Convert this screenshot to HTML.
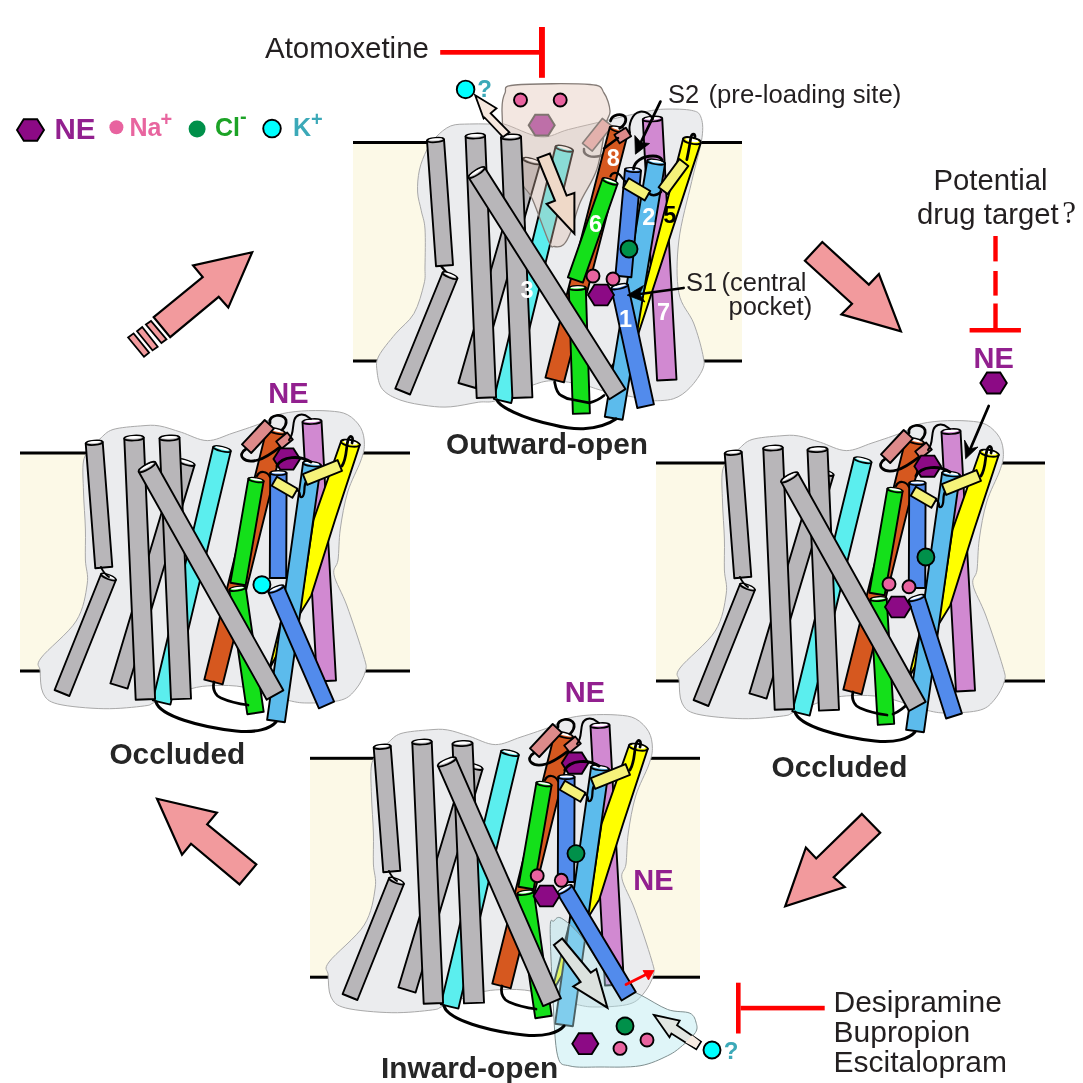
<!DOCTYPE html>
<html><head><meta charset="utf-8"><style>html,body{margin:0;padding:0;background:#fff;width:1083px;height:1083px;overflow:hidden}svg{display:block;will-change:transform}</style></head>
<body>
<svg width="1083" height="1083" viewBox="0 0 1083 1083">
<rect width="1083" height="1083" fill="#fff"/>
<rect x="20" y="453" width="390" height="218" fill="#FCF9E7"/>
<rect x="20" y="451.5" width="390" height="3" fill="#000"/>
<rect x="20" y="669.5" width="390" height="3" fill="#000"/>
<path d="M83.5,461.0 C84.8,453.7 88.2,451.7 91.0,448.0 C93.8,444.3 96.3,441.9 100.0,438.8 C103.7,435.7 106.2,431.6 113.0,429.5 C119.8,427.4 133.1,426.5 140.8,425.9 C148.5,425.3 152.5,424.8 159.3,425.9 C166.1,427.0 173.4,429.9 181.4,432.3 C189.4,434.8 198.7,440.5 207.3,440.6 C215.9,440.7 223.4,436.1 233.0,433.0 C242.6,429.9 257.2,425.0 264.6,422.0 C272.0,419.0 271.4,416.6 277.6,414.8 C283.8,413.0 293.0,411.6 301.6,411.0 C310.2,410.4 321.6,410.4 329.3,411.0 C337.0,411.6 342.5,412.0 347.7,414.8 C352.9,417.6 357.9,422.8 360.7,427.7 C363.5,432.6 364.4,438.8 364.4,444.3 C364.4,449.9 363.5,453.1 360.7,461.0 C357.9,468.9 351.1,480.7 347.7,492.0 C344.3,503.3 341.9,517.7 340.3,529.0 C338.7,540.3 339.1,552.4 338.0,560.0 C336.9,567.6 332.5,567.1 334.0,574.8 C335.5,582.5 342.1,592.5 347.0,606.0 C351.9,619.5 360.5,645.2 363.6,656.0 C366.7,666.8 366.7,665.5 365.4,671.0 C364.1,676.5 360.0,684.2 356.0,689.0 C352.0,693.8 349.1,697.7 341.4,700.0 C333.7,702.3 318.9,703.0 310.0,703.0 C301.1,703.0 298.7,702.9 287.9,700.3 C277.1,697.7 257.7,689.8 245.4,687.4 C233.1,685.0 223.2,685.3 214.0,685.6 C204.8,685.9 199.7,686.3 190.0,689.0 C180.3,691.7 163.2,699.2 155.6,702.0 C148.0,704.8 153.1,704.8 144.5,705.9 C135.9,707.0 118.4,709.0 103.9,708.7 C89.4,708.4 67.9,706.6 57.7,704.0 C47.6,701.4 45.9,698.5 43.0,693.0 C40.1,687.5 40.5,676.8 40.2,671.0 C39.9,665.2 35.0,666.3 41.0,658.0 C47.0,649.7 68.5,633.3 76.2,621.0 C83.9,608.7 85.7,594.2 87.2,584.0 C88.7,573.8 85.7,569.2 85.4,560.0 C85.1,550.8 85.7,540.3 85.4,529.0 C85.1,517.7 83.8,503.3 83.5,492.0 C83.2,480.7 82.2,468.3 83.5,461.0Z" fill="#EBECEE" stroke="#A9A9A9" stroke-width="1.0"/>
<g>
<polygon points="177.4,459.9 110.4,683.4 127.6,688.6 194.6,465.1" fill="#B8B6B9" stroke="#000" stroke-width="1.9" stroke-linejoin="round"/>
<ellipse cx="186.0" cy="462.5" rx="9.0" ry="2.3" transform="rotate(-163.3 186.0 462.5)" fill="#B8B6B9" stroke="#000" stroke-width="1.71"/>
<ellipse cx="186.2" cy="461.9" rx="7.2" ry="1.2" transform="rotate(-163.3 186.2 461.9)" fill="#FFFFFF"/>
</g>
<g>
<polygon points="85.7,443.4 95.3,568.2 112.3,566.8 102.7,442.0" fill="#B8B6B9" stroke="#000" stroke-width="1.9" stroke-linejoin="round"/>
<ellipse cx="94.2" cy="442.7" rx="8.5" ry="2.2" transform="rotate(175.6 94.2 442.7)" fill="#B8B6B9" stroke="#000" stroke-width="1.71"/>
<ellipse cx="94.2" cy="442.1" rx="6.8" ry="1.1" transform="rotate(175.6 94.2 442.1)" fill="#FFFFFF"/>
</g>
<g>
<polygon points="101.1,574.0 54.6,690.0 69.4,696.0 115.9,580.0" fill="#B8B6B9" stroke="#000" stroke-width="1.9" stroke-linejoin="round"/>
<ellipse cx="108.5" cy="577.0" rx="8.0" ry="2.1" transform="rotate(-158.2 108.5 577.0)" fill="#B8B6B9" stroke="#000" stroke-width="1.71"/>
<ellipse cx="108.7" cy="576.5" rx="6.4" ry="1.0" transform="rotate(-158.2 108.7 576.5)" fill="#FFFFFF"/>
</g>
<g>
<polygon points="213.2,446.9 152.8,700.4 170.4,704.6 230.8,451.1" fill="#5BEEEE" stroke="#000" stroke-width="1.9" stroke-linejoin="round"/>
<ellipse cx="222.0" cy="449.0" rx="9.0" ry="2.3" transform="rotate(-166.6 222.0 449.0)" fill="#5BEEEE" stroke="#000" stroke-width="1.71"/>
<ellipse cx="222.1" cy="448.4" rx="7.2" ry="1.2" transform="rotate(-166.6 222.1 448.4)" fill="#FFFFFF"/>
</g>
<g>
<polygon points="124.3,438.4 135.7,699.8 155.1,699.0 143.7,437.6" fill="#B8B6B9" stroke="#000" stroke-width="1.9" stroke-linejoin="round"/>
<ellipse cx="134.0" cy="438.0" rx="9.8" ry="2.5" transform="rotate(177.5 134.0 438.0)" fill="#B8B6B9" stroke="#000" stroke-width="1.71"/>
<ellipse cx="134.0" cy="437.4" rx="7.8" ry="1.3" transform="rotate(177.5 134.0 437.4)" fill="#FFFFFF"/>
</g>
<g>
<polygon points="159.5,438.4 171.0,699.4 191.0,698.6 179.5,437.6" fill="#B8B6B9" stroke="#000" stroke-width="1.9" stroke-linejoin="round"/>
<ellipse cx="169.5" cy="438.0" rx="10.0" ry="2.6" transform="rotate(177.5 169.5 438.0)" fill="#B8B6B9" stroke="#000" stroke-width="1.71"/>
<ellipse cx="169.5" cy="437.4" rx="8.0" ry="1.3" transform="rotate(177.5 169.5 437.4)" fill="#FFFFFF"/>
</g>
<g>
<polygon points="266.8,428.7 204.3,679.7 222.7,684.3 285.2,433.3" fill="#D6581F" stroke="#000" stroke-width="1.9" stroke-linejoin="round"/>
<ellipse cx="276.0" cy="431.0" rx="9.5" ry="2.5" transform="rotate(-166.0 276.0 431.0)" fill="#D6581F" stroke="#000" stroke-width="1.71"/>
<ellipse cx="276.1" cy="430.4" rx="7.6" ry="1.2" transform="rotate(-166.0 276.1 430.4)" fill="#FFFFFF"/>
</g>
<g>
<polygon points="248.4,478.7 230.4,582.7 245.6,585.3 263.6,481.3" fill="#14E01A" stroke="#000" stroke-width="1.9" stroke-linejoin="round"/>
<ellipse cx="256.0" cy="480.0" rx="7.8" ry="2.0" transform="rotate(-170.2 256.0 480.0)" fill="#14E01A" stroke="#000" stroke-width="1.71"/>
<ellipse cx="256.1" cy="479.5" rx="6.2" ry="1.0" transform="rotate(-170.2 256.1 479.5)" fill="#FFFFFF"/>
</g>
<g>
<polygon points="229.3,589.8 247.3,714.2 263.7,711.8 245.7,587.4" fill="#14E01A" stroke="#000" stroke-width="1.9" stroke-linejoin="round"/>
<ellipse cx="237.5" cy="588.6" rx="8.2" ry="2.1" transform="rotate(171.8 237.5 588.6)" fill="#14E01A" stroke="#000" stroke-width="1.71"/>
<ellipse cx="237.4" cy="588.1" rx="6.6" ry="1.1" transform="rotate(171.8 237.4 588.1)" fill="#FFFFFF"/>
</g>
<g>
<polygon points="302.5,422.0 317.0,681.5 336.0,680.5 321.5,421.0" fill="#D189D1" stroke="#000" stroke-width="1.9" stroke-linejoin="round"/>
<ellipse cx="312.0" cy="421.5" rx="9.5" ry="2.5" transform="rotate(176.8 312.0 421.5)" fill="#D189D1" stroke="#000" stroke-width="1.71"/>
<ellipse cx="312.0" cy="420.9" rx="7.6" ry="1.2" transform="rotate(176.8 312.0 420.9)" fill="#FFFFFF"/>
</g>
<path d="M246.0,449.0 C236.0,455.0 244.0,464.0 258.0,460.0 C268.0,457.0 276.0,450.0 284.0,444.0" fill="none" stroke="#000" stroke-width="2.75" stroke-linecap="round" stroke-linejoin="round" />
<g>
<polygon points="251.2,453.0 273.9,428.6 264.7,420.0 242.0,444.4" fill="#DD8A8A" stroke="#000" stroke-width="1.9" stroke-linejoin="round"/>
</g>
<path d="M270.0,423.0 C268.0,414.0 284.0,413.0 286.0,420.0 C287.0,425.0 284.0,428.0 282.0,430.0" fill="none" stroke="#000" stroke-width="2.75" stroke-linecap="round" stroke-linejoin="round" />
<g>
<polygon points="281.8,448.5 292.8,439.5 287.2,432.5 276.2,441.5" fill="#DD8A8A" stroke="#000" stroke-width="1.9" stroke-linejoin="round"/>
</g>
<path d="M289.0,440.0 C296.0,432.0 290.0,418.0 299.0,415.0 C305.0,413.0 308.0,417.0 311.0,419.0" fill="none" stroke="#000" stroke-width="2.00" stroke-linecap="round" stroke-linejoin="round" />
<polygon points="341.0,441.5 313.5,520.0 303.0,590.0 282.0,618.0 269.4,669.0 290.0,630.0 311.3,595.4 335.0,520.0 359.7,445.0" fill="#FFFF00" stroke="#000" stroke-width="1.9" stroke-linejoin="miter" />
<ellipse cx="350.4" cy="443.2" rx="9.5" ry="3.2" transform="rotate(10.6 350.4 443.2)" fill="#FFFF00" stroke="#000" stroke-width="1.9"/>
<ellipse cx="350.4" cy="442.6" rx="7" ry="1.7" transform="rotate(10.6 350.4 442.6)" fill="#fff"/>
<g>
<polygon points="303.1,462.8 267.1,719.8 284.9,722.2 320.9,465.2" fill="#5CBBEC" stroke="#000" stroke-width="1.9" stroke-linejoin="round"/>
<ellipse cx="312.0" cy="464.0" rx="9.0" ry="2.3" transform="rotate(-172.0 312.0 464.0)" fill="#5CBBEC" stroke="#000" stroke-width="1.71"/>
<ellipse cx="312.1" cy="463.4" rx="7.2" ry="1.2" transform="rotate(-172.0 312.1 463.4)" fill="#FFFFFF"/>
</g>
<g>
<polygon points="138.7,471.7 266.7,699.7 283.3,690.3 155.3,462.3" fill="#B8B6B9" stroke="#000" stroke-width="1.9" stroke-linejoin="round"/>
<ellipse cx="147.0" cy="467.0" rx="9.5" ry="2.5" transform="rotate(150.7 147.0 467.0)" fill="#B8B6B9" stroke="#000" stroke-width="1.71"/>
<ellipse cx="146.7" cy="466.5" rx="7.6" ry="1.2" transform="rotate(150.7 146.7 466.5)" fill="#FFFFFF"/>
</g>
<g>
<polygon points="270.2,473.0 269.8,578.0 286.2,578.0 286.6,473.0" fill="#528BEC" stroke="#000" stroke-width="1.9" stroke-linejoin="round"/>
<ellipse cx="278.4" cy="473.0" rx="8.2" ry="2.1" transform="rotate(-179.8 278.4 473.0)" fill="#528BEC" stroke="#000" stroke-width="1.71"/>
<ellipse cx="278.4" cy="472.5" rx="6.6" ry="1.1" transform="rotate(-179.8 278.4 472.5)" fill="#FFFFFF"/>
</g>
<g>
<polygon points="268.4,592.3 318.9,708.3 334.1,701.7 283.6,585.7" fill="#528BEC" stroke="#000" stroke-width="1.9" stroke-linejoin="round"/>
<ellipse cx="276.0" cy="589.0" rx="8.2" ry="2.1" transform="rotate(156.5 276.0 589.0)" fill="#528BEC" stroke="#000" stroke-width="1.71"/>
<ellipse cx="275.8" cy="588.5" rx="6.6" ry="1.1" transform="rotate(156.5 275.8 588.5)" fill="#FFFFFF"/>
</g>
<path d="M101.0,567.0 C103.0,572.0 106.0,575.0 109.0,577.0" fill="none" stroke="#000" stroke-width="2.00" stroke-linecap="round" stroke-linejoin="round" />
<path d="M214.0,682.0 C212.0,690.0 216.0,696.0 221.0,698.0 C230.0,702.0 240.0,704.0 248.0,705.0" fill="none" stroke="#000" stroke-width="2.75" stroke-linecap="round" stroke-linejoin="round" />
<path d="M156.0,702.0 C160.0,716.0 200.0,727.0 236.0,731.0 C256.0,733.0 270.0,729.0 276.0,722.0" fill="none" stroke="#000" stroke-width="3.00" stroke-linecap="round" stroke-linejoin="round" />
<polygon points="300.1,459.0 293.4,469.6 280.2,469.6 273.5,459.0 280.1,448.4 293.4,448.4" fill="#8C0A85" stroke="#000" stroke-width="1.9"/>
<circle cx="261.9" cy="584.7" r="8.5" fill="#00FFFF" stroke="#000" stroke-width="1.9"/>
<path d="M277.0,466.0 C282.0,456.0 300.0,455.0 311.0,462.0" fill="none" stroke="#000" stroke-width="3.00" stroke-linecap="round" stroke-linejoin="round" />
<path d="M257.0,476.0 C260.0,470.0 267.0,471.0 270.0,477.0" fill="none" stroke="#000" stroke-width="2.25" stroke-linecap="round" stroke-linejoin="round" />
<g>
<polygon points="271.7,485.8 292.4,497.8 297.6,488.8 276.9,476.8" fill="#F5F27A" stroke="#000" stroke-width="1.9" stroke-linejoin="round"/>
</g>
<path d="M297.0,490.0 C302.0,492.0 298.0,498.0 302.0,497.0 C306.0,495.0 303.0,486.0 306.0,482.0" fill="none" stroke="#000" stroke-width="2.25" stroke-linecap="round" stroke-linejoin="round" />
<g>
<polygon points="307.2,484.9 342.0,470.9 337.6,460.1 302.8,474.1" fill="#F5F27A" stroke="#000" stroke-width="1.9" stroke-linejoin="round"/>
</g>
<path d="M342.0,466.0 C347.0,458.0 346.0,447.0 348.0,440.0 C350.0,434.0 354.0,436.0 352.0,443.0" fill="none" stroke="#000" stroke-width="2.75" stroke-linecap="round" stroke-linejoin="round" />
<text x="177.3" y="764.0" font-family="Liberation Sans" font-size="29.8" font-weight="bold" fill="#262626" text-anchor="middle" >Occluded</text>
<text x="288.5" y="403.0" font-family="Liberation Sans" font-size="29" font-weight="bold" fill="#92208F" text-anchor="middle" >NE</text>
<rect x="656" y="463" width="389" height="218" fill="#FCF9E7"/>
<rect x="656" y="461.5" width="389" height="3" fill="#000"/>
<rect x="656" y="679.5" width="389" height="3" fill="#000"/>
<path d="M722.5,471.0 C723.8,463.7 727.2,461.7 730.0,458.0 C732.8,454.3 735.3,451.9 739.0,448.8 C742.7,445.7 745.2,441.6 752.0,439.5 C758.8,437.4 772.1,436.5 779.8,435.9 C787.5,435.3 791.5,434.8 798.3,435.9 C805.1,437.0 812.4,439.9 820.4,442.3 C828.4,444.8 837.7,450.5 846.3,450.6 C854.9,450.7 862.5,446.1 872.0,443.0 C881.5,439.9 896.2,435.0 903.6,432.0 C911.0,429.0 910.4,426.6 916.6,424.8 C922.8,423.0 932.0,421.6 940.6,421.0 C949.2,420.4 960.6,420.4 968.3,421.0 C976.0,421.6 981.5,422.0 986.7,424.8 C991.9,427.6 996.9,432.8 999.7,437.7 C1002.5,442.6 1003.4,448.8 1003.4,454.3 C1003.4,459.9 1002.5,463.1 999.7,471.0 C996.9,478.9 990.1,490.7 986.7,502.0 C983.3,513.3 980.9,527.7 979.3,539.0 C977.7,550.3 978.0,562.4 977.0,570.0 C976.0,577.6 971.5,577.1 973.0,584.8 C974.5,592.5 981.1,602.5 986.0,616.0 C990.9,629.5 999.5,655.2 1002.6,666.0 C1005.7,676.8 1005.7,675.5 1004.4,681.0 C1003.1,686.5 999.0,694.2 995.0,699.0 C991.0,703.8 988.1,707.7 980.4,710.0 C972.7,712.3 957.9,713.0 949.0,713.0 C940.1,713.0 937.7,712.9 926.9,710.3 C916.1,707.7 896.7,699.8 884.4,697.4 C872.1,695.0 862.2,695.3 853.0,695.6 C843.8,695.9 838.7,696.3 829.0,699.0 C819.3,701.7 802.2,709.2 794.6,712.0 C787.0,714.8 792.1,714.8 783.5,715.9 C774.9,717.0 757.4,719.0 742.9,718.7 C728.4,718.4 706.9,716.6 696.7,714.0 C686.6,711.4 684.9,708.5 682.0,703.0 C679.1,697.5 679.5,686.8 679.2,681.0 C678.9,675.2 674.0,676.3 680.0,668.0 C686.0,659.7 707.5,643.3 715.2,631.0 C722.9,618.7 724.7,604.2 726.2,594.0 C727.7,583.8 724.7,579.2 724.4,570.0 C724.1,560.8 724.7,550.3 724.4,539.0 C724.1,527.7 722.8,513.3 722.5,502.0 C722.2,490.7 721.2,478.3 722.5,471.0Z" fill="#EBECEE" stroke="#A9A9A9" stroke-width="1.0"/>
<g>
<polygon points="816.4,469.9 749.4,693.4 766.6,698.6 833.6,475.1" fill="#B8B6B9" stroke="#000" stroke-width="1.9" stroke-linejoin="round"/>
<ellipse cx="825.0" cy="472.5" rx="9.0" ry="2.3" transform="rotate(-163.3 825.0 472.5)" fill="#B8B6B9" stroke="#000" stroke-width="1.71"/>
<ellipse cx="825.2" cy="471.9" rx="7.2" ry="1.2" transform="rotate(-163.3 825.2 471.9)" fill="#FFFFFF"/>
</g>
<g>
<polygon points="724.7,453.4 734.3,578.2 751.3,576.8 741.7,452.0" fill="#B8B6B9" stroke="#000" stroke-width="1.9" stroke-linejoin="round"/>
<ellipse cx="733.2" cy="452.7" rx="8.5" ry="2.2" transform="rotate(175.6 733.2 452.7)" fill="#B8B6B9" stroke="#000" stroke-width="1.71"/>
<ellipse cx="733.2" cy="452.1" rx="6.8" ry="1.1" transform="rotate(175.6 733.2 452.1)" fill="#FFFFFF"/>
</g>
<g>
<polygon points="740.1,584.0 693.6,700.0 708.4,706.0 754.9,590.0" fill="#B8B6B9" stroke="#000" stroke-width="1.9" stroke-linejoin="round"/>
<ellipse cx="747.5" cy="587.0" rx="8.0" ry="2.1" transform="rotate(-158.2 747.5 587.0)" fill="#B8B6B9" stroke="#000" stroke-width="1.71"/>
<ellipse cx="747.7" cy="586.5" rx="6.4" ry="1.0" transform="rotate(-158.2 747.7 586.5)" fill="#FFFFFF"/>
</g>
<g>
<polygon points="854.1,458.1 792.3,711.4 809.7,715.6 871.5,462.3" fill="#5BEEEE" stroke="#000" stroke-width="1.9" stroke-linejoin="round"/>
<ellipse cx="862.8" cy="460.2" rx="9.0" ry="2.3" transform="rotate(-166.3 862.8 460.2)" fill="#5BEEEE" stroke="#000" stroke-width="1.71"/>
<ellipse cx="862.9" cy="459.6" rx="7.2" ry="1.2" transform="rotate(-166.3 862.9 459.6)" fill="#FFFFFF"/>
</g>
<g>
<polygon points="763.3,448.4 774.7,709.8 794.1,709.0 782.7,447.6" fill="#B8B6B9" stroke="#000" stroke-width="1.9" stroke-linejoin="round"/>
<ellipse cx="773.0" cy="448.0" rx="9.8" ry="2.5" transform="rotate(177.5 773.0 448.0)" fill="#B8B6B9" stroke="#000" stroke-width="1.71"/>
<ellipse cx="773.0" cy="447.4" rx="7.8" ry="1.3" transform="rotate(177.5 773.0 447.4)" fill="#FFFFFF"/>
</g>
<g>
<polygon points="807.5,449.9 819.0,710.6 839.0,709.8 827.5,449.1" fill="#B8B6B9" stroke="#000" stroke-width="1.9" stroke-linejoin="round"/>
<ellipse cx="817.5" cy="449.5" rx="10.0" ry="2.6" transform="rotate(177.5 817.5 449.5)" fill="#B8B6B9" stroke="#000" stroke-width="1.71"/>
<ellipse cx="817.5" cy="448.9" rx="8.0" ry="1.3" transform="rotate(177.5 817.5 448.9)" fill="#FFFFFF"/>
</g>
<g>
<polygon points="905.8,438.7 843.3,689.7 861.7,694.3 924.2,443.3" fill="#D6581F" stroke="#000" stroke-width="1.9" stroke-linejoin="round"/>
<ellipse cx="915.0" cy="441.0" rx="9.5" ry="2.5" transform="rotate(-166.0 915.0 441.0)" fill="#D6581F" stroke="#000" stroke-width="1.71"/>
<ellipse cx="915.1" cy="440.4" rx="7.6" ry="1.2" transform="rotate(-166.0 915.1 440.4)" fill="#FFFFFF"/>
</g>
<g>
<polygon points="887.4,488.7 869.4,592.7 884.6,595.3 902.6,491.3" fill="#14E01A" stroke="#000" stroke-width="1.9" stroke-linejoin="round"/>
<ellipse cx="895.0" cy="490.0" rx="7.8" ry="2.0" transform="rotate(-170.2 895.0 490.0)" fill="#14E01A" stroke="#000" stroke-width="1.71"/>
<ellipse cx="895.1" cy="489.5" rx="6.2" ry="1.0" transform="rotate(-170.2 895.1 489.5)" fill="#FFFFFF"/>
</g>
<g>
<polygon points="870.3,599.5 877.8,724.9 894.2,723.9 886.7,598.5" fill="#14E01A" stroke="#000" stroke-width="1.9" stroke-linejoin="round"/>
<ellipse cx="878.5" cy="599.0" rx="8.2" ry="2.1" transform="rotate(176.6 878.5 599.0)" fill="#14E01A" stroke="#000" stroke-width="1.71"/>
<ellipse cx="878.5" cy="598.5" rx="6.6" ry="1.1" transform="rotate(176.6 878.5 598.5)" fill="#FFFFFF"/>
</g>
<g>
<polygon points="941.5,432.0 956.0,691.5 975.0,690.5 960.5,431.0" fill="#D189D1" stroke="#000" stroke-width="1.9" stroke-linejoin="round"/>
<ellipse cx="951.0" cy="431.5" rx="9.5" ry="2.5" transform="rotate(176.8 951.0 431.5)" fill="#D189D1" stroke="#000" stroke-width="1.71"/>
<ellipse cx="951.0" cy="430.9" rx="7.6" ry="1.2" transform="rotate(176.8 951.0 430.9)" fill="#FFFFFF"/>
</g>
<path d="M885.0,459.0 C875.0,465.0 883.0,474.0 897.0,470.0 C907.0,467.0 915.0,460.0 923.0,454.0" fill="none" stroke="#000" stroke-width="2.75" stroke-linecap="round" stroke-linejoin="round" />
<g>
<polygon points="890.2,463.0 912.9,438.6 903.7,430.0 881.0,454.4" fill="#DD8A8A" stroke="#000" stroke-width="1.9" stroke-linejoin="round"/>
</g>
<path d="M909.0,433.0 C907.0,424.0 923.0,423.0 925.0,430.0 C926.0,435.0 923.0,438.0 921.0,440.0" fill="none" stroke="#000" stroke-width="2.75" stroke-linecap="round" stroke-linejoin="round" />
<g>
<polygon points="920.8,458.5 931.8,449.5 926.2,442.5 915.2,451.5" fill="#DD8A8A" stroke="#000" stroke-width="1.9" stroke-linejoin="round"/>
</g>
<path d="M928.0,450.0 C935.0,442.0 929.0,428.0 938.0,425.0 C944.0,423.0 947.0,427.0 950.0,429.0" fill="none" stroke="#000" stroke-width="2.00" stroke-linecap="round" stroke-linejoin="round" />
<polygon points="980.0,451.5 952.5,530.0 942.0,600.0 921.0,628.0 908.4,679.0 929.0,640.0 950.3,605.4 974.0,530.0 998.7,455.0" fill="#FFFF00" stroke="#000" stroke-width="1.9" stroke-linejoin="miter" />
<ellipse cx="989.4" cy="453.2" rx="9.5" ry="3.2" transform="rotate(10.6 989.4 453.2)" fill="#FFFF00" stroke="#000" stroke-width="1.9"/>
<ellipse cx="989.4" cy="452.6" rx="7" ry="1.7" transform="rotate(10.6 989.4 452.6)" fill="#fff"/>
<g>
<polygon points="942.1,472.8 906.1,729.8 923.9,732.2 959.9,475.2" fill="#5CBBEC" stroke="#000" stroke-width="1.9" stroke-linejoin="round"/>
<ellipse cx="951.0" cy="474.0" rx="9.0" ry="2.3" transform="rotate(-172.0 951.0 474.0)" fill="#5CBBEC" stroke="#000" stroke-width="1.71"/>
<ellipse cx="951.1" cy="473.4" rx="7.2" ry="1.2" transform="rotate(-172.0 951.1 473.4)" fill="#FFFFFF"/>
</g>
<path d="M893,714 C899,712 905,707 912,700" fill="none" stroke="#000" stroke-width="2.75" stroke-linecap="round" stroke-linejoin="round" />
<g>
<polygon points="781.1,481.9 909.0,711.0 925.6,701.8 797.7,472.7" fill="#B8B6B9" stroke="#000" stroke-width="1.9" stroke-linejoin="round"/>
<ellipse cx="789.4" cy="477.3" rx="9.5" ry="2.5" transform="rotate(150.8 789.4 477.3)" fill="#B8B6B9" stroke="#000" stroke-width="1.71"/>
<ellipse cx="789.1" cy="476.8" rx="7.6" ry="1.2" transform="rotate(150.8 789.1 476.8)" fill="#FFFFFF"/>
</g>
<g>
<polygon points="909.2,483.0 908.8,588.0 925.2,588.0 925.6,483.0" fill="#528BEC" stroke="#000" stroke-width="1.9" stroke-linejoin="round"/>
<ellipse cx="917.4" cy="483.0" rx="8.2" ry="2.1" transform="rotate(-179.8 917.4 483.0)" fill="#528BEC" stroke="#000" stroke-width="1.71"/>
<ellipse cx="917.4" cy="482.5" rx="6.6" ry="1.1" transform="rotate(-179.8 917.4 482.5)" fill="#FFFFFF"/>
</g>
<g>
<polygon points="908.6,600.5 946.1,718.5 961.9,713.5 924.4,595.5" fill="#528BEC" stroke="#000" stroke-width="1.9" stroke-linejoin="round"/>
<ellipse cx="916.5" cy="598.0" rx="8.2" ry="2.1" transform="rotate(162.4 916.5 598.0)" fill="#528BEC" stroke="#000" stroke-width="1.71"/>
<ellipse cx="916.3" cy="597.5" rx="6.6" ry="1.1" transform="rotate(162.4 916.3 597.5)" fill="#FFFFFF"/>
</g>
<path d="M740.0,577.0 C742.0,582.0 745.0,585.0 748.0,587.0" fill="none" stroke="#000" stroke-width="2.00" stroke-linecap="round" stroke-linejoin="round" />
<path d="M853.0,692.0 C851.0,700.0 855.0,706.0 860.0,708.0 C869.0,712.0 879.0,714.0 887.0,715.0" fill="none" stroke="#000" stroke-width="2.75" stroke-linecap="round" stroke-linejoin="round" />
<path d="M795.0,712.0 C799.0,726.0 839.0,737.0 875.0,741.0 C895.0,743.0 909.0,739.0 915.0,732.0" fill="none" stroke="#000" stroke-width="3.00" stroke-linecap="round" stroke-linejoin="round" />
<polygon points="941.0,466.2 934.4,476.8 921.1,476.8 914.4,466.2 921.1,455.6 934.4,455.6" fill="#8C0A85" stroke="#000" stroke-width="1.9"/>
<circle cx="925.9" cy="557.0" r="8.5" fill="#00904A" stroke="#000" stroke-width="1.9"/>
<circle cx="889.0" cy="584.0" r="6.5" fill="#E8639F" stroke="#000" stroke-width="1.9"/>
<circle cx="909.0" cy="586.8" r="6.5" fill="#E8639F" stroke="#000" stroke-width="1.9"/>
<polygon points="911.0,607.0 904.5,617.4 891.5,617.4 885.0,607.0 891.5,596.6 904.5,596.6" fill="#8C0A85" stroke="#000" stroke-width="1.9"/>
<path d="M916.0,476.0 C921.0,466.0 939.0,465.0 950.0,472.0" fill="none" stroke="#000" stroke-width="3.00" stroke-linecap="round" stroke-linejoin="round" />
<path d="M896.0,486.0 C899.0,480.0 906.0,481.0 909.0,487.0" fill="none" stroke="#000" stroke-width="2.25" stroke-linecap="round" stroke-linejoin="round" />
<g>
<polygon points="910.7,495.8 931.4,507.8 936.6,498.8 915.9,486.8" fill="#F5F27A" stroke="#000" stroke-width="1.9" stroke-linejoin="round"/>
</g>
<path d="M936.0,500.0 C941.0,502.0 937.0,508.0 941.0,507.0 C945.0,505.0 942.0,496.0 945.0,492.0" fill="none" stroke="#000" stroke-width="2.25" stroke-linecap="round" stroke-linejoin="round" />
<g>
<polygon points="946.2,494.9 981.0,480.9 976.6,470.1 941.8,484.1" fill="#F5F27A" stroke="#000" stroke-width="1.9" stroke-linejoin="round"/>
</g>
<path d="M981.0,476.0 C986.0,468.0 985.0,457.0 987.0,450.0 C989.0,444.0 993.0,446.0 991.0,453.0" fill="none" stroke="#000" stroke-width="2.75" stroke-linecap="round" stroke-linejoin="round" />
<text x="839.5" y="776.5" font-family="Liberation Sans" font-size="29.8" font-weight="bold" fill="#262626" text-anchor="middle" >Occluded</text>
<rect x="353" y="142.5" width="389" height="218.5" fill="#FCF9E7"/>
<rect x="353" y="141.0" width="389" height="3" fill="#000"/>
<rect x="353" y="359.5" width="389" height="3" fill="#000"/>
<path d="M426.8,150.0 C429.6,144.5 432.0,141.0 436.0,137.0 C440.0,133.0 445.2,128.1 450.8,125.9 C456.4,123.7 463.2,124.3 469.3,124.0 C475.4,123.7 481.9,124.0 487.7,124.0 C493.5,124.0 495.0,121.8 503.9,124.0 C512.8,126.2 530.0,136.0 540.8,136.9 C551.6,137.8 557.4,132.3 568.5,129.5 C579.6,126.7 594.5,123.3 607.3,120.3 C620.1,117.3 635.4,113.6 645.2,111.7 C655.0,109.8 658.1,109.3 665.9,109.1 C673.6,108.9 685.9,109.1 691.7,110.4 C697.5,111.7 699.1,112.4 700.8,116.9 C702.5,121.4 703.5,126.8 702.0,137.6 C700.5,148.4 695.6,164.3 691.7,181.5 C687.8,198.7 680.9,222.5 678.8,241.0 C676.6,259.5 676.3,279.0 678.8,292.7 C681.3,306.4 689.6,312.7 693.6,323.0 C697.6,333.3 701.3,346.8 702.8,354.5 C704.3,362.2 704.9,363.5 702.8,369.0 C700.6,374.5 694.8,382.7 689.9,387.7 C685.0,392.7 680.1,396.6 673.3,398.8 C666.5,401.0 654.8,400.8 649.3,400.7 C643.8,400.6 647.5,400.0 640.0,398.4 C632.5,396.8 613.4,393.2 604.0,391.0 C594.6,388.8 591.8,386.7 583.4,385.0 C575.0,383.3 562.3,380.7 553.9,380.7 C545.5,380.7 542.5,381.7 533.0,385.0 C523.5,388.3 506.1,397.5 497.0,400.4 C487.9,403.3 486.2,401.1 478.5,402.2 C470.8,403.3 459.1,406.2 450.8,406.8 C442.5,407.4 436.9,407.0 428.6,405.9 C420.3,404.8 408.7,403.1 401.0,400.3 C393.3,397.5 386.5,394.2 382.5,389.3 C378.5,384.4 377.6,376.4 377.0,370.8 C376.4,365.2 375.7,362.1 378.8,356.0 C381.9,349.9 389.5,341.0 395.4,333.9 C401.2,326.8 409.1,321.9 413.9,313.6 C418.7,305.3 422.1,291.9 424.0,284.0 C425.9,276.1 424.8,275.2 425.0,266.0 C425.2,256.8 425.6,238.2 425.0,229.0 C424.4,219.8 422.5,217.0 421.3,210.8 C420.1,204.6 417.9,198.8 417.6,192.0 C417.3,185.2 417.9,177.0 419.4,170.0 C420.9,163.0 424.0,155.5 426.8,150.0Z" fill="#EBECEE" stroke="#A9A9A9" stroke-width="1.0"/>
<g>
<polygon points="523.0,158.5 458.4,383.0 475.6,388.0 540.2,163.5" fill="#B8B6B9" stroke="#000" stroke-width="1.9" stroke-linejoin="round"/>
<ellipse cx="531.6" cy="161.0" rx="9.0" ry="2.3" transform="rotate(-163.9 531.6 161.0)" fill="#B8B6B9" stroke="#000" stroke-width="1.71"/>
<ellipse cx="531.8" cy="160.4" rx="7.2" ry="1.2" transform="rotate(-163.9 531.8 160.4)" fill="#FFFFFF"/>
</g>
<g>
<polygon points="427.0,140.6 436.0,266.2 453.0,265.0 444.0,139.4" fill="#B8B6B9" stroke="#000" stroke-width="1.9" stroke-linejoin="round"/>
<ellipse cx="435.5" cy="140.0" rx="8.5" ry="2.2" transform="rotate(175.9 435.5 140.0)" fill="#B8B6B9" stroke="#000" stroke-width="1.71"/>
<ellipse cx="435.5" cy="139.4" rx="6.8" ry="1.1" transform="rotate(175.9 435.5 139.4)" fill="#FFFFFF"/>
</g>
<path d="M441,266 C444,270 446,272 449,275" fill="none" stroke="#000" stroke-width="2.25" stroke-linecap="round" stroke-linejoin="round" />
<g>
<polygon points="442.6,272.5 395.3,388.5 410.1,394.5 457.4,278.5" fill="#B8B6B9" stroke="#000" stroke-width="1.9" stroke-linejoin="round"/>
<ellipse cx="450.0" cy="275.5" rx="8.0" ry="2.1" transform="rotate(-157.8 450.0 275.5)" fill="#B8B6B9" stroke="#000" stroke-width="1.71"/>
<ellipse cx="450.2" cy="275.0" rx="6.4" ry="1.0" transform="rotate(-157.8 450.2 275.0)" fill="#FFFFFF"/>
</g>
<g>
<polygon points="555.6,146.5 493.8,398.9 511.2,403.1 573.0,150.7" fill="#5BEEEE" stroke="#000" stroke-width="1.9" stroke-linejoin="round"/>
<ellipse cx="564.3" cy="148.6" rx="9.0" ry="2.3" transform="rotate(-166.2 564.3 148.6)" fill="#5BEEEE" stroke="#000" stroke-width="1.71"/>
<ellipse cx="564.4" cy="148.0" rx="7.2" ry="1.2" transform="rotate(-166.2 564.4 148.0)" fill="#FFFFFF"/>
</g>
<path d="M515.0,85.0 C529.2,83.6 575.2,83.2 590.0,84.5 C604.8,85.8 600.7,88.6 604.0,93.0 C607.3,97.4 609.7,105.8 610.0,111.0 C610.3,116.2 608.2,114.3 606.0,124.0 C603.8,133.7 601.3,155.9 597.0,169.0 C592.7,182.1 584.4,192.2 580.0,202.8 C575.6,213.4 573.3,225.5 570.5,232.5 C567.7,239.5 566.1,242.5 563.4,244.8 C560.7,247.1 556.7,247.0 554.3,246.5 C551.9,246.0 552.7,249.9 549.0,242.0 C545.3,234.1 536.7,208.5 532.3,198.9 C527.9,189.3 527.0,192.8 522.6,184.7 C518.2,176.5 509.4,162.3 506.0,150.0 C502.6,137.7 502.2,120.5 502.0,111.0 C501.8,101.5 502.8,97.3 505.0,93.0 C507.2,88.7 500.8,86.4 515.0,85.0Z" fill="rgb(221,189,172)" stroke="#857C77" stroke-width="1.3" fill-opacity="0.36"/>
<g>
<polygon points="602.3,118.4 582.5,143.3 592.3,151.1 612.1,126.2" fill="#E3B1AC" stroke="#8A807B" stroke-width="1.6" stroke-linejoin="round"/>
</g>
<path d="M584,149 C583,156 592,158 600,156 C604,155 607,152 607,150" fill="none" stroke="#7E7470" stroke-width="2.50" stroke-linecap="round" stroke-linejoin="round" />
<polygon points="554.7,125.2 548.2,135.6 535.2,135.6 528.7,125.2 535.2,114.8 548.2,114.8" fill="#BE6FA8" stroke="#7F7570" stroke-width="2.0"/>
<circle cx="520.5" cy="100.0" r="6.5" fill="#E8639F" stroke="#000" stroke-width="1.9"/>
<circle cx="560.2" cy="100.0" r="6.5" fill="#E8639F" stroke="#000" stroke-width="1.9"/>
<polygon points="537.5,158.1 549.8,153.6 566.6,195.6 574.4,193.0 574.4,233.8 546.6,204.0 555.0,200.8" fill="#EFD9C8" stroke="#000" stroke-width="2.0" stroke-linejoin="miter" />
<g>
<polygon points="465.6,136.4 476.7,398.0 496.1,397.2 485.0,135.6" fill="#B8B6B9" stroke="#000" stroke-width="1.9" stroke-linejoin="round"/>
<ellipse cx="475.3" cy="136.0" rx="9.8" ry="2.5" transform="rotate(177.6 475.3 136.0)" fill="#B8B6B9" stroke="#000" stroke-width="1.71"/>
<ellipse cx="475.3" cy="135.4" rx="7.8" ry="1.3" transform="rotate(177.6 475.3 135.4)" fill="#FFFFFF"/>
</g>
<g>
<polygon points="501.0,137.4 512.4,398.0 532.4,397.2 521.0,136.6" fill="#B8B6B9" stroke="#000" stroke-width="1.9" stroke-linejoin="round"/>
<ellipse cx="511.0" cy="137.0" rx="10.0" ry="2.6" transform="rotate(177.5 511.0 137.0)" fill="#B8B6B9" stroke="#000" stroke-width="1.71"/>
<ellipse cx="511.0" cy="136.4" rx="8.0" ry="1.3" transform="rotate(177.5 511.0 136.4)" fill="#FFFFFF"/>
</g>
<polygon points="475.2,95.3 496.5,108.3 490.6,113.2 509.4,132.3 503.0,137.0 484.5,117.5 483.6,118.4" fill="#F6E8DE" stroke="#000" stroke-width="1.8" stroke-linejoin="miter" />
<circle cx="465.6" cy="89.4" r="8.8" fill="#00FFFF" stroke="#000" stroke-width="1.9"/>
<text x="484.5" y="96.5" font-family="Liberation Sans" font-size="24" font-weight="bold" fill="#3CA9B8" text-anchor="middle" >?</text>
<g>
<polygon points="609.8,127.2 545.5,377.6 563.9,382.4 628.2,132.0" fill="#D6581F" stroke="#000" stroke-width="1.9" stroke-linejoin="round"/>
<ellipse cx="619.0" cy="129.6" rx="9.5" ry="2.5" transform="rotate(-165.6 619.0 129.6)" fill="#D6581F" stroke="#000" stroke-width="1.71"/>
<ellipse cx="619.2" cy="129.0" rx="7.6" ry="1.2" transform="rotate(-165.6 619.2 129.0)" fill="#FFFFFF"/>
</g>
<g>
<polygon points="602.5,178.8 567.9,277.4 582.9,282.6 617.5,184.0" fill="#14E01A" stroke="#000" stroke-width="1.9" stroke-linejoin="round"/>
<ellipse cx="610.0" cy="181.4" rx="8.0" ry="2.1" transform="rotate(-160.7 610.0 181.4)" fill="#14E01A" stroke="#000" stroke-width="1.71"/>
<ellipse cx="610.2" cy="180.9" rx="6.4" ry="1.0" transform="rotate(-160.7 610.2 180.9)" fill="#FFFFFF"/>
</g>
<g>
<polygon points="568.8,288.3 572.9,413.9 589.9,413.3 585.8,287.7" fill="#14E01A" stroke="#000" stroke-width="1.9" stroke-linejoin="round"/>
<ellipse cx="577.3" cy="288.0" rx="8.5" ry="2.2" transform="rotate(178.1 577.3 288.0)" fill="#14E01A" stroke="#000" stroke-width="1.71"/>
<ellipse cx="577.3" cy="287.4" rx="6.8" ry="1.1" transform="rotate(178.1 577.3 287.4)" fill="#FFFFFF"/>
</g>
<g>
<polygon points="642.8,119.5 657.1,380.5 676.5,379.5 662.2,118.5" fill="#D189D1" stroke="#000" stroke-width="1.9" stroke-linejoin="round"/>
<ellipse cx="652.5" cy="119.0" rx="9.8" ry="2.5" transform="rotate(176.9 652.5 119.0)" fill="#D189D1" stroke="#000" stroke-width="1.71"/>
<ellipse cx="652.5" cy="118.4" rx="7.8" ry="1.3" transform="rotate(176.9 652.5 118.4)" fill="#FFFFFF"/>
</g>
<polygon points="683.1,138.9 700.8,142.6 638.0,334.8 610.4,367.5 627.0,357.0" fill="#FFFF00" stroke="#000" stroke-width="1.9" stroke-linejoin="miter" />
<ellipse cx="692" cy="140.7" rx="9" ry="3" transform="rotate(12 692 140.7)" fill="#FFFF00" stroke="#000" stroke-width="1.9"/>
<ellipse cx="692" cy="140.2" rx="6.5" ry="1.6" transform="rotate(12 692 140.2)" fill="#fff"/>
<g>
<polygon points="647.3,160.5 604.8,416.7 622.6,419.7 665.1,163.5" fill="#5CBBEC" stroke="#000" stroke-width="1.9" stroke-linejoin="round"/>
<ellipse cx="656.2" cy="162.0" rx="9.0" ry="2.3" transform="rotate(-170.6 656.2 162.0)" fill="#5CBBEC" stroke="#000" stroke-width="1.71"/>
<ellipse cx="656.3" cy="161.4" rx="7.2" ry="1.2" transform="rotate(-170.6 656.3 161.4)" fill="#FFFFFF"/>
</g>
<g>
<polygon points="625.0,169.3 615.4,275.8 631.4,277.2 641.0,170.7" fill="#528BEC" stroke="#000" stroke-width="1.9" stroke-linejoin="round"/>
<ellipse cx="633.0" cy="170.0" rx="8.0" ry="2.1" transform="rotate(-174.8 633.0 170.0)" fill="#528BEC" stroke="#000" stroke-width="1.71"/>
<ellipse cx="633.0" cy="169.5" rx="6.4" ry="1.0" transform="rotate(-174.8 633.0 169.5)" fill="#FFFFFF"/>
</g>
<g>
<polygon points="611.3,288.4 637.3,408.0 653.9,404.4 627.9,284.8" fill="#528BEC" stroke="#000" stroke-width="1.9" stroke-linejoin="round"/>
<ellipse cx="619.6" cy="286.6" rx="8.5" ry="2.2" transform="rotate(167.7 619.6 286.6)" fill="#528BEC" stroke="#000" stroke-width="1.71"/>
<ellipse cx="619.5" cy="286.1" rx="6.8" ry="1.1" transform="rotate(167.7 619.5 286.1)" fill="#FFFFFF"/>
</g>
<g>
<polygon points="468.6,177.6 609.4,399.3 625.4,389.1 484.6,167.4" fill="#B8B6B9" stroke="#000" stroke-width="1.9" stroke-linejoin="round"/>
<ellipse cx="476.6" cy="172.5" rx="9.5" ry="2.5" transform="rotate(147.6 476.6 172.5)" fill="#B8B6B9" stroke="#000" stroke-width="1.71"/>
<ellipse cx="476.3" cy="172.0" rx="7.6" ry="1.2" transform="rotate(147.6 476.3 172.0)" fill="#FFFFFF"/>
</g>
<path d="M554.6,382 C556,390 558,394 561.2,395.5 C565,398 568,399 572,399.5 L589.3,402.8 C596,401 601,398 604,395.5" fill="none" stroke="#000" stroke-width="2.75" stroke-linecap="round" stroke-linejoin="round" />
<path d="M497,400 C499,406 520,418 553.9,425 C565,428 575,429 583.4,428.7 C596,428 606,426 615.9,419" fill="none" stroke="#000" stroke-width="3.12" stroke-linecap="round" stroke-linejoin="round" />
<path d="M610.5,121 C612,114 622,113 625.3,117.2 C627,121 624,126 619.7,128.3" fill="none" stroke="#000" stroke-width="2.75" stroke-linecap="round" stroke-linejoin="round" />
<path d="M630,133 C628,125 632,113 640,111.7 C646,111 650,114 653,119" fill="none" stroke="#000" stroke-width="2.00" stroke-linecap="round" stroke-linejoin="round" />
<g>
<polygon points="619.6,143.3 631.1,136.3 625.9,127.7 614.4,134.7" fill="#DD8A8A" stroke="#000" stroke-width="1.9" stroke-linejoin="round"/>
</g>
<path d="M604,148.6 C609,145 614,141 618,138" fill="none" stroke="#000" stroke-width="2.50" stroke-linecap="round" stroke-linejoin="round" />
<path d="M610.5,176.3 C612,172 617,172 620,175 C622,178 624,180 626,182" fill="none" stroke="#000" stroke-width="2.25" stroke-linecap="round" stroke-linejoin="round" />
<path d="M633.6,169 C634,162 642,156 653,156 C658,156 661,158 662,160" fill="none" stroke="#000" stroke-width="3.00" stroke-linecap="round" stroke-linejoin="round" />
<g>
<polygon points="623.2,187.7 644.7,200.4 650.3,191.0 628.8,178.3" fill="#F5F27A" stroke="#000" stroke-width="1.9" stroke-linejoin="round"/>
</g>
<path d="M649,193.5 C652,196 656,196 661,192" fill="none" stroke="#000" stroke-width="2.50" stroke-linecap="round" stroke-linejoin="round" />
<g>
<polygon points="667.6,194.1 688.4,165.9 679.4,159.1 658.6,187.3" fill="#F5F27A" stroke="#000" stroke-width="1.9" stroke-linejoin="round"/>
</g>
<path d="M686.8,159.6 C689,150 690,142 691,137 C692,133 695,133 695,137" fill="none" stroke="#000" stroke-width="2.75" stroke-linecap="round" stroke-linejoin="round" />
<circle cx="629.0" cy="249.0" r="8.5" fill="#00904A" stroke="#000" stroke-width="1.9"/>
<circle cx="593.0" cy="276.0" r="6.5" fill="#E8639F" stroke="#000" stroke-width="1.9"/>
<circle cx="613.0" cy="279.0" r="6.5" fill="#E8639F" stroke="#000" stroke-width="1.9"/>
<polygon points="614.0,295.0 607.5,305.4 594.5,305.4 588.0,295.0 594.5,284.6 607.5,284.6" fill="#8C0A85" stroke="#000" stroke-width="1.9"/>
<path d="M683.6,288 L640,294" fill="none" stroke="#000" stroke-width="2.75" stroke-linecap="round" stroke-linejoin="round" />
<polygon points="627.2,295.2 643.5,285.5 639.5,294.2 645.0,302.0" fill="#000" stroke="#000" stroke-width="0.8" stroke-linejoin="miter" />
<path d="M660.4,101.6 L641,142" fill="none" stroke="#000" stroke-width="2.75" stroke-linecap="round" stroke-linejoin="round" />
<polygon points="635.4,154.2 634.8,135.5 641.0,142.5 649.5,143.5" fill="#000" stroke="#000" stroke-width="0.8" stroke-linejoin="miter" />
<text x="613.2" y="166.2" font-family="Liberation Sans" font-size="23.5" font-weight="bold" fill="#fff" text-anchor="middle" >8</text>
<text x="595.6" y="232.0" font-family="Liberation Sans" font-size="23.5" font-weight="bold" fill="#fff" text-anchor="middle" >6</text>
<text x="648.8" y="225.3" font-family="Liberation Sans" font-size="23.5" font-weight="bold" fill="#fff" text-anchor="middle" >2</text>
<text x="669.8" y="223.4" font-family="Liberation Sans" font-size="23.5" font-weight="bold" fill="#000" text-anchor="middle" >5</text>
<text x="527.0" y="298.0" font-family="Liberation Sans" font-size="23.5" font-weight="bold" fill="#fff" text-anchor="middle" >3</text>
<text x="625.5" y="326.5" font-family="Liberation Sans" font-size="23.5" font-weight="bold" fill="#fff" text-anchor="middle" >1</text>
<text x="663.5" y="320.0" font-family="Liberation Sans" font-size="23.5" font-weight="bold" fill="#fff" text-anchor="middle" >7</text>
<text x="547.0" y="454.4" font-family="Liberation Sans" font-size="29.8" font-weight="bold" fill="#262626" text-anchor="middle" >Outward-open</text>
<text x="668.0" y="102.7" font-family="Liberation Sans" font-size="25.5" font-weight="normal" fill="#231F20" text-anchor="start" >S2</text>
<text x="708.5" y="102.7" font-family="Liberation Sans" font-size="25.7" font-weight="normal" fill="#231F20" text-anchor="start" >(pre-loading site)</text>
<text x="686.0" y="291.4" font-family="Liberation Sans" font-size="25.5" font-weight="normal" fill="#231F20" text-anchor="start" >S1</text>
<text x="721.5" y="291.4" font-family="Liberation Sans" font-size="25.5" font-weight="normal" fill="#231F20" text-anchor="start" >(central</text>
<text x="728.5" y="314.6" font-family="Liberation Sans" font-size="25.5" font-weight="normal" fill="#231F20" text-anchor="start" >pocket)</text>
<rect x="310" y="758.3" width="390" height="218.9000000000001" fill="#FCF9E7"/>
<rect x="310" y="756.8" width="390" height="3" fill="#000"/>
<rect x="310" y="975.7" width="390" height="3" fill="#000"/>
<path d="M371.5,765.0 C372.8,757.7 376.2,755.7 379.0,752.0 C381.8,748.3 384.3,745.9 388.0,742.8 C391.7,739.7 394.2,735.6 401.0,733.5 C407.8,731.4 421.1,730.5 428.8,729.9 C436.5,729.3 440.5,728.8 447.3,729.9 C454.1,731.0 461.4,733.8 469.4,736.3 C477.4,738.8 486.7,744.5 495.3,744.6 C503.9,744.7 511.4,740.1 521.0,737.0 C530.5,733.9 545.2,729.0 552.6,726.0 C560.0,723.0 559.4,720.6 565.6,718.8 C571.8,717.0 581.0,715.6 589.6,715.0 C598.2,714.4 609.6,714.4 617.3,715.0 C625.0,715.6 630.5,716.0 635.7,718.8 C640.9,721.6 645.9,726.8 648.7,731.7 C651.5,736.6 652.4,742.8 652.4,748.3 C652.4,753.8 651.5,757.0 648.7,765.0 C645.9,773.0 639.1,784.7 635.7,796.0 C632.3,807.3 629.9,821.7 628.3,833.0 C626.7,844.3 627.0,856.4 626.0,864.0 C625.0,871.6 620.5,871.1 622.0,878.8 C623.5,886.5 630.1,896.5 635.0,910.0 C639.9,923.5 648.5,949.2 651.6,960.0 C654.7,970.8 654.7,969.5 653.4,975.0 C652.1,980.5 648.0,988.2 644.0,993.0 C640.0,997.8 637.1,1001.7 629.4,1004.0 C621.7,1006.3 606.9,1007.0 598.0,1007.0 C589.1,1007.0 586.7,1006.9 575.9,1004.3 C565.1,1001.7 545.7,993.8 533.4,991.4 C521.1,989.0 511.2,989.3 502.0,989.6 C492.8,989.9 487.7,990.3 478.0,993.0 C468.3,995.7 451.2,1003.2 443.6,1006.0 C436.0,1008.8 441.1,1008.8 432.5,1009.9 C423.9,1011.0 406.4,1013.0 391.9,1012.7 C377.4,1012.4 355.8,1010.6 345.7,1008.0 C335.6,1005.4 333.9,1002.5 331.0,997.0 C328.1,991.5 328.5,980.8 328.2,975.0 C327.9,969.2 323.0,970.3 329.0,962.0 C335.0,953.7 356.5,937.3 364.2,925.0 C371.9,912.7 373.7,898.2 375.2,888.0 C376.7,877.8 373.7,873.2 373.4,864.0 C373.1,854.8 373.7,844.3 373.4,833.0 C373.1,821.7 371.8,807.3 371.5,796.0 C371.2,784.7 370.2,772.3 371.5,765.0Z" fill="#EBECEE" stroke="#A9A9A9" stroke-width="1.0"/>
<g>
<polygon points="465.4,763.9 398.4,987.4 415.6,992.6 482.6,769.1" fill="#B8B6B9" stroke="#000" stroke-width="1.9" stroke-linejoin="round"/>
<ellipse cx="474.0" cy="766.5" rx="9.0" ry="2.3" transform="rotate(-163.3 474.0 766.5)" fill="#B8B6B9" stroke="#000" stroke-width="1.71"/>
<ellipse cx="474.2" cy="765.9" rx="7.2" ry="1.2" transform="rotate(-163.3 474.2 765.9)" fill="#FFFFFF"/>
</g>
<g>
<polygon points="373.7,747.4 383.3,872.2 400.3,870.8 390.7,746.0" fill="#B8B6B9" stroke="#000" stroke-width="1.9" stroke-linejoin="round"/>
<ellipse cx="382.2" cy="746.7" rx="8.5" ry="2.2" transform="rotate(175.6 382.2 746.7)" fill="#B8B6B9" stroke="#000" stroke-width="1.71"/>
<ellipse cx="382.2" cy="746.1" rx="6.8" ry="1.1" transform="rotate(175.6 382.2 746.1)" fill="#FFFFFF"/>
</g>
<g>
<polygon points="389.1,878.0 342.6,994.0 357.4,1000.0 403.9,884.0" fill="#B8B6B9" stroke="#000" stroke-width="1.9" stroke-linejoin="round"/>
<ellipse cx="396.5" cy="881.0" rx="8.0" ry="2.1" transform="rotate(-158.2 396.5 881.0)" fill="#B8B6B9" stroke="#000" stroke-width="1.71"/>
<ellipse cx="396.7" cy="880.5" rx="6.4" ry="1.0" transform="rotate(-158.2 396.7 880.5)" fill="#FFFFFF"/>
</g>
<g>
<polygon points="501.2,750.9 440.8,1004.4 458.4,1008.6 518.8,755.1" fill="#5BEEEE" stroke="#000" stroke-width="1.9" stroke-linejoin="round"/>
<ellipse cx="510.0" cy="753.0" rx="9.0" ry="2.3" transform="rotate(-166.6 510.0 753.0)" fill="#5BEEEE" stroke="#000" stroke-width="1.71"/>
<ellipse cx="510.1" cy="752.4" rx="7.2" ry="1.2" transform="rotate(-166.6 510.1 752.4)" fill="#FFFFFF"/>
</g>
<g>
<polygon points="412.3,742.4 423.7,1003.8 443.1,1003.0 431.7,741.6" fill="#B8B6B9" stroke="#000" stroke-width="1.9" stroke-linejoin="round"/>
<ellipse cx="422.0" cy="742.0" rx="9.8" ry="2.5" transform="rotate(177.5 422.0 742.0)" fill="#B8B6B9" stroke="#000" stroke-width="1.71"/>
<ellipse cx="422.0" cy="741.4" rx="7.8" ry="1.3" transform="rotate(177.5 422.0 741.4)" fill="#FFFFFF"/>
</g>
<g>
<polygon points="452.5,743.9 464.0,1003.4 484.0,1002.6 472.5,743.1" fill="#B8B6B9" stroke="#000" stroke-width="1.9" stroke-linejoin="round"/>
<ellipse cx="462.5" cy="743.5" rx="10.0" ry="2.6" transform="rotate(177.5 462.5 743.5)" fill="#B8B6B9" stroke="#000" stroke-width="1.71"/>
<ellipse cx="462.5" cy="742.9" rx="8.0" ry="1.3" transform="rotate(177.5 462.5 742.9)" fill="#FFFFFF"/>
</g>
<g>
<polygon points="554.8,732.7 492.3,983.7 510.7,988.3 573.2,737.3" fill="#D6581F" stroke="#000" stroke-width="1.9" stroke-linejoin="round"/>
<ellipse cx="564.0" cy="735.0" rx="9.5" ry="2.5" transform="rotate(-166.0 564.0 735.0)" fill="#D6581F" stroke="#000" stroke-width="1.71"/>
<ellipse cx="564.1" cy="734.4" rx="7.6" ry="1.2" transform="rotate(-166.0 564.1 734.4)" fill="#FFFFFF"/>
</g>
<g>
<polygon points="536.4,782.7 518.4,886.7 533.6,889.3 551.6,785.3" fill="#14E01A" stroke="#000" stroke-width="1.9" stroke-linejoin="round"/>
<ellipse cx="544.0" cy="784.0" rx="7.8" ry="2.0" transform="rotate(-170.2 544.0 784.0)" fill="#14E01A" stroke="#000" stroke-width="1.71"/>
<ellipse cx="544.1" cy="783.5" rx="6.2" ry="1.0" transform="rotate(-170.2 544.1 783.5)" fill="#FFFFFF"/>
</g>
<g>
<polygon points="517.3,893.8 535.3,1018.2 551.7,1015.8 533.7,891.4" fill="#14E01A" stroke="#000" stroke-width="1.9" stroke-linejoin="round"/>
<ellipse cx="525.5" cy="892.6" rx="8.2" ry="2.1" transform="rotate(171.8 525.5 892.6)" fill="#14E01A" stroke="#000" stroke-width="1.71"/>
<ellipse cx="525.4" cy="892.1" rx="6.6" ry="1.1" transform="rotate(171.8 525.4 892.1)" fill="#FFFFFF"/>
</g>
<g>
<polygon points="590.5,726.0 605.0,985.5 624.0,984.5 609.5,725.0" fill="#D189D1" stroke="#000" stroke-width="1.9" stroke-linejoin="round"/>
<ellipse cx="600.0" cy="725.5" rx="9.5" ry="2.5" transform="rotate(176.8 600.0 725.5)" fill="#D189D1" stroke="#000" stroke-width="1.71"/>
<ellipse cx="600.0" cy="724.9" rx="7.6" ry="1.2" transform="rotate(176.8 600.0 724.9)" fill="#FFFFFF"/>
</g>
<path d="M534.0,753.0 C524.0,759.0 532.0,768.0 546.0,764.0 C556.0,761.0 564.0,754.0 572.0,748.0" fill="none" stroke="#000" stroke-width="2.75" stroke-linecap="round" stroke-linejoin="round" />
<g>
<polygon points="539.2,757.0 561.9,732.6 552.7,724.0 530.0,748.4" fill="#DD8A8A" stroke="#000" stroke-width="1.9" stroke-linejoin="round"/>
</g>
<path d="M558.0,727.0 C556.0,718.0 572.0,717.0 574.0,724.0 C575.0,729.0 572.0,732.0 570.0,734.0" fill="none" stroke="#000" stroke-width="2.75" stroke-linecap="round" stroke-linejoin="round" />
<g>
<polygon points="569.8,752.5 580.8,743.5 575.2,736.5 564.2,745.5" fill="#DD8A8A" stroke="#000" stroke-width="1.9" stroke-linejoin="round"/>
</g>
<path d="M577.0,744.0 C584.0,736.0 578.0,722.0 587.0,719.0 C593.0,717.0 596.0,721.0 599.0,723.0" fill="none" stroke="#000" stroke-width="2.00" stroke-linecap="round" stroke-linejoin="round" />
<polygon points="629.0,745.5 601.5,824.0 591.0,894.0 570.0,922.0 551.0,994.0 564.0,972.0 578.0,934.0 599.3,899.4 623.0,824.0 647.7,749.0" fill="#FFFF00" stroke="#000" stroke-width="1.9" stroke-linejoin="miter" />
<ellipse cx="638.4" cy="747.2" rx="9.5" ry="3.2" transform="rotate(10.6 638.4 747.2)" fill="#FFFF00" stroke="#000" stroke-width="1.9"/>
<ellipse cx="638.4" cy="746.6" rx="7" ry="1.7" transform="rotate(10.6 638.4 746.6)" fill="#fff"/>
<g>
<polygon points="591.1,766.8 555.1,1023.8 572.9,1026.2 608.9,769.2" fill="#5CBBEC" stroke="#000" stroke-width="1.9" stroke-linejoin="round"/>
<ellipse cx="600.0" cy="768.0" rx="9.0" ry="2.3" transform="rotate(-172.0 600.0 768.0)" fill="#5CBBEC" stroke="#000" stroke-width="1.71"/>
<ellipse cx="600.1" cy="767.4" rx="7.2" ry="1.2" transform="rotate(-172.0 600.1 767.4)" fill="#FFFFFF"/>
</g>
<path d="M550.2,928.3 C550.4,915.1 552.0,922.7 553.9,921.0 C555.8,919.3 556.9,915.9 561.3,918.2 C565.6,920.5 573.5,927.2 580.0,935.0 C586.5,942.8 594.5,957.0 600.0,965.0 C605.5,973.0 606.3,978.0 613.0,983.0 C619.7,988.0 630.9,990.3 640.0,994.7 C649.1,999.1 659.4,1006.4 667.7,1009.5 C676.0,1012.6 685.1,1010.9 689.9,1013.2 C694.7,1015.5 695.4,1020.2 696.3,1023.4 C697.2,1026.6 697.7,1028.9 695.4,1032.6 C693.1,1036.3 687.1,1041.7 682.5,1045.5 C677.9,1049.3 674.8,1052.3 667.7,1055.7 C660.6,1059.1 651.3,1063.9 640.0,1065.8 C628.7,1067.7 611.7,1067.0 600.0,1067.0 C588.3,1067.0 577.1,1067.9 570.0,1066.0 C562.9,1064.1 560.4,1066.8 557.6,1055.8 C554.8,1044.8 554.2,1021.2 553.0,1000.0 C551.8,978.8 550.1,941.5 550.2,928.3Z" fill="rgb(178,232,238)" stroke="#7F8F90" stroke-width="1.0" fill-opacity="0.42"/>
<g>
<polygon points="437.9,765.8 543.1,1006.1 560.9,998.3 455.7,758.0" fill="#B8B6B9" stroke="#000" stroke-width="1.9" stroke-linejoin="round"/>
<ellipse cx="446.8" cy="761.9" rx="9.8" ry="2.5" transform="rotate(156.4 446.8 761.9)" fill="#B8B6B9" stroke="#000" stroke-width="1.71"/>
<ellipse cx="446.5" cy="761.3" rx="7.8" ry="1.3" transform="rotate(156.4 446.5 761.3)" fill="#FFFFFF"/>
</g>
<g>
<polygon points="557.4,893.8 621.6,1000.5 635.8,991.9 571.6,885.2" fill="#528BEC" stroke="#000" stroke-width="1.9" stroke-linejoin="round"/>
<ellipse cx="564.5" cy="889.5" rx="8.2" ry="2.1" transform="rotate(149.0 564.5 889.5)" fill="#528BEC" stroke="#000" stroke-width="1.71"/>
<ellipse cx="564.2" cy="889.0" rx="6.6" ry="1.1" transform="rotate(149.0 564.2 889.0)" fill="#FFFFFF"/>
</g>
<g>
<polygon points="558.2,777.0 557.8,882.0 574.2,882.0 574.6,777.0" fill="#528BEC" stroke="#000" stroke-width="1.9" stroke-linejoin="round"/>
<ellipse cx="566.4" cy="777.0" rx="8.2" ry="2.1" transform="rotate(-179.8 566.4 777.0)" fill="#528BEC" stroke="#000" stroke-width="1.71"/>
<ellipse cx="566.4" cy="776.5" rx="6.6" ry="1.1" transform="rotate(-179.8 566.4 776.5)" fill="#FFFFFF"/>
</g>
<path d="M389.0,871.0 C391.0,876.0 394.0,879.0 397.0,881.0" fill="none" stroke="#000" stroke-width="2.00" stroke-linecap="round" stroke-linejoin="round" />
<path d="M502.0,986.0 C500.0,994.0 504.0,1000.0 509.0,1002.0 C518.0,1006.0 528.0,1008.0 536.0,1009.0" fill="none" stroke="#000" stroke-width="2.75" stroke-linecap="round" stroke-linejoin="round" />
<path d="M444.0,1006.0 C448.0,1020.0 488.0,1031.0 524.0,1035.0 C544.0,1037.0 558.0,1033.0 564.0,1026.0" fill="none" stroke="#000" stroke-width="3.00" stroke-linecap="round" stroke-linejoin="round" />
<polygon points="588.4,763.1 581.8,773.7 568.5,773.7 561.8,763.1 568.5,752.5 581.8,752.5" fill="#8C0A85" stroke="#000" stroke-width="1.9"/>
<circle cx="576.0" cy="853.6" r="8.5" fill="#00904A" stroke="#000" stroke-width="1.9"/>
<circle cx="537.2" cy="875.7" r="6.5" fill="#E8639F" stroke="#000" stroke-width="1.9"/>
<circle cx="561.3" cy="880.3" r="6.5" fill="#E8639F" stroke="#000" stroke-width="1.9"/>
<polygon points="559.5,896.0 553.0,906.4 540.0,906.4 533.5,896.0 540.0,885.6 553.0,885.6" fill="#8C0A85" stroke="#000" stroke-width="1.9"/>
<path d="M565.0,770.0 C570.0,760.0 588.0,759.0 599.0,766.0" fill="none" stroke="#000" stroke-width="3.00" stroke-linecap="round" stroke-linejoin="round" />
<path d="M545.0,780.0 C548.0,774.0 555.0,775.0 558.0,781.0" fill="none" stroke="#000" stroke-width="2.25" stroke-linecap="round" stroke-linejoin="round" />
<g>
<polygon points="559.7,789.8 580.4,801.8 585.6,792.8 564.9,780.8" fill="#F5F27A" stroke="#000" stroke-width="1.9" stroke-linejoin="round"/>
</g>
<path d="M585.0,794.0 C590.0,796.0 586.0,802.0 590.0,801.0 C594.0,799.0 591.0,790.0 594.0,786.0" fill="none" stroke="#000" stroke-width="2.25" stroke-linecap="round" stroke-linejoin="round" />
<g>
<polygon points="595.2,788.9 630.0,774.9 625.6,764.1 590.8,778.1" fill="#F5F27A" stroke="#000" stroke-width="1.9" stroke-linejoin="round"/>
</g>
<path d="M630.0,770.0 C635.0,762.0 634.0,751.0 636.0,744.0 C638.0,738.0 642.0,740.0 640.0,747.0" fill="none" stroke="#000" stroke-width="2.75" stroke-linecap="round" stroke-linejoin="round" />
<polygon points="553.9,945.0 562.2,938.5 590.8,972.6 596.3,969.0 607.4,1007.7 573.3,986.5 580.6,981.9" fill="#DCE2DE" stroke="#000" stroke-width="2.0" stroke-linejoin="miter" />
<polygon points="598.3,1043.7 591.8,1054.1 578.8,1054.1 572.3,1043.7 578.8,1033.3 591.8,1033.3" fill="#8C0A85" stroke="#000" stroke-width="1.9"/>
<circle cx="625.0" cy="1026.0" r="8.5" fill="#00904A" stroke="#000" stroke-width="1.9"/>
<circle cx="620.0" cy="1048.4" r="6.5" fill="#E8639F" stroke="#000" stroke-width="1.9"/>
<circle cx="647.0" cy="1040.0" r="6.5" fill="#E8639F" stroke="#000" stroke-width="1.9"/>
<polygon points="653.9,1015.0 679.7,1020.6 677.0,1025.2 701.0,1041.8 696.3,1049.2 671.4,1033.5 669.5,1037.2" fill="#E2E6E2" stroke="#000" stroke-width="1.8" stroke-linejoin="miter" />
<polygon points="692.0,1035.2 700.0,1041.6 696.0,1048.0 685.5,1042.6" fill="#F7EAE1" stroke="none" stroke-width="0" stroke-linejoin="miter" />
<circle cx="712.0" cy="1050.0" r="8.5" fill="#00FFFF" stroke="#000" stroke-width="1.9"/>
<text x="731.0" y="1058.6" font-family="Liberation Sans" font-size="24" font-weight="bold" fill="#3CA9B8" text-anchor="middle" >?</text>
<path d="M626,984.6 L648,973.5" fill="none" stroke="#FF0000" stroke-width="2.75" stroke-linecap="round" stroke-linejoin="round" />
<polygon points="654.0,970.5 643.0,970.5 648.5,980.0" fill="#FF0000" stroke="#FF0000" stroke-width="0.8" stroke-linejoin="miter" />
<text x="585.0" y="702.0" font-family="Liberation Sans" font-size="29" font-weight="bold" fill="#92208F" text-anchor="middle" >NE</text>
<text x="653.5" y="889.5" font-family="Liberation Sans" font-size="29" font-weight="bold" fill="#92208F" text-anchor="middle" >NE</text>
<text x="469.6" y="1077.8" font-family="Liberation Sans" font-size="29.8" font-weight="bold" fill="#262626" text-anchor="middle" >Inward-open</text>
<polygon points="252.2,252.2 193.1,265.5 202.7,277.0 153.7,317.2 170.2,337.1 218.7,296.8 228.3,307.6" fill="#F29A9D" stroke="#000" stroke-width="2.2" stroke-linejoin="miter" />
<polygon points="145.9,324.5 151.0,320.9 166.5,339.3 161.4,343.0" fill="#F29A9D" stroke="#000" stroke-width="1.8" stroke-linejoin="miter" />
<polygon points="137.0,331.2 142.2,327.0 157.7,346.7 152.5,350.4" fill="#F29A9D" stroke="#000" stroke-width="1.8" stroke-linejoin="miter" />
<polygon points="128.1,337.5 133.6,333.4 149.1,352.6 144.0,356.8" fill="#F29A9D" stroke="#000" stroke-width="1.8" stroke-linejoin="miter" />
<polygon points="804.9,260.7 822.3,242.0 868.9,284.6 878.9,274.0 900.9,331.4 841.4,314.4 852.0,303.8" fill="#F29A9D" stroke="#000" stroke-width="2.2" stroke-linejoin="miter" />
<polygon points="861.9,813.9 880.2,832.7 833.7,877.3 844.7,887.0 785.2,906.3 805.9,847.5 816.2,858.5" fill="#F29A9D" stroke="#000" stroke-width="2.2" stroke-linejoin="miter" />
<polygon points="157.0,798.8 216.9,812.7 207.2,824.3 256.3,864.4 239.5,884.4 191.0,843.7 182.0,854.7" fill="#F29A9D" stroke="#000" stroke-width="2.2" stroke-linejoin="miter" />
<rect x="440.2" y="50" width="101.5" height="4.7" fill="#FF0000"/>
<rect x="539" y="27" width="5.9" height="50.8" fill="#FF0000"/>
<text x="265.0" y="58.0" font-family="Liberation Sans" font-size="29.5" font-weight="normal" fill="#231F20" text-anchor="start" >Atomoxetine</text>
<rect x="993.3" y="236" width="4.4" height="25.4" fill="#FF0000"/>
<rect x="993.3" y="271" width="4.4" height="24.6" fill="#FF0000"/>
<rect x="993.3" y="303.5" width="4.4" height="26" fill="#FF0000"/>
<rect x="969.6" y="328" width="51.3" height="4.5" fill="#FF0000"/>
<text x="990.5" y="189.5" font-family="Liberation Sans" font-size="29.3" font-weight="normal" fill="#231F20" text-anchor="middle" >Potential</text>
<text x="917.0" y="224.0" font-family="Liberation Sans" font-size="29.3" font-weight="normal" fill="#231F20" text-anchor="start" >drug target</text>
<text x="1076.0" y="223.0" font-family="Liberation Serif" font-size="31" font-weight="normal" fill="#231F20" text-anchor="end" >?</text>
<text x="993.7" y="368.0" font-family="Liberation Sans" font-size="29" font-weight="bold" fill="#92208F" text-anchor="middle" >NE</text>
<polygon points="1006.8,383.0 1000.2,393.5 987.0,393.5 980.4,383.0 987.0,372.5 1000.2,372.5" fill="#8C0A85" stroke="#000" stroke-width="1.9"/>
<path d="M988.7,406 L969,452" fill="none" stroke="#000" stroke-width="2.75" stroke-linecap="round" stroke-linejoin="round" />
<polygon points="965.6,458.8 964.5,440.0 969.5,449.0 978.0,447.0" fill="#000" stroke="#000" stroke-width="0.8" stroke-linejoin="miter" />
<rect x="736" y="982.7" width="4.6" height="50.8" fill="#FF0000"/>
<rect x="740.6" y="1005.8" width="84.1" height="4.6" fill="#FF0000"/>
<text x="833.5" y="1011.5" font-family="Liberation Sans" font-size="30" font-weight="normal" fill="#231F20" text-anchor="start" >Desipramine</text>
<text x="833.5" y="1041.5" font-family="Liberation Sans" font-size="30" font-weight="normal" fill="#231F20" text-anchor="start" >Bupropion</text>
<text x="833.5" y="1071.5" font-family="Liberation Sans" font-size="30" font-weight="normal" fill="#231F20" text-anchor="start" >Escitalopram</text>
<polygon points="44.0,130.0 37.2,140.8 23.8,140.8 17.0,130.0 23.7,119.2 37.2,119.2" fill="#8C0A85" stroke="#000" stroke-width="1.9"/>
<text x="54.5" y="139.0" font-family="Liberation Sans" font-size="29.5" font-weight="bold" fill="#92208F" text-anchor="start" >NE</text>
<circle cx="116.4" cy="127.3" r="7.0" fill="#E8639F" stroke="none" stroke-width="1.9"/>
<text x="129.5" y="136.3" font-family="Liberation Sans" font-size="25" font-weight="bold" fill="#E8659F" text-anchor="start" >Na</text>
<text x="160.5" y="126.0" font-family="Liberation Sans" font-size="20" font-weight="bold" fill="#E8659F" text-anchor="start" >+</text>
<circle cx="197.1" cy="129.0" r="8.5" fill="#00904A" stroke="none" stroke-width="1.9"/>
<text x="215.0" y="136.3" font-family="Liberation Sans" font-size="25" font-weight="bold" fill="#1CA326" text-anchor="start" >Cl</text>
<text x="240.0" y="123.0" font-family="Liberation Sans" font-size="20" font-weight="bold" fill="#1CA326" text-anchor="start" >-</text>
<circle cx="272.0" cy="128.6" r="8.8" fill="#00FFFF" stroke="#000" stroke-width="1.9"/>
<text x="293.0" y="136.3" font-family="Liberation Sans" font-size="25" font-weight="bold" fill="#3CA9B8" text-anchor="start" >K</text>
<text x="311.0" y="126.0" font-family="Liberation Sans" font-size="20" font-weight="bold" fill="#3CA9B8" text-anchor="start" >+</text>
</svg>
</body></html>
